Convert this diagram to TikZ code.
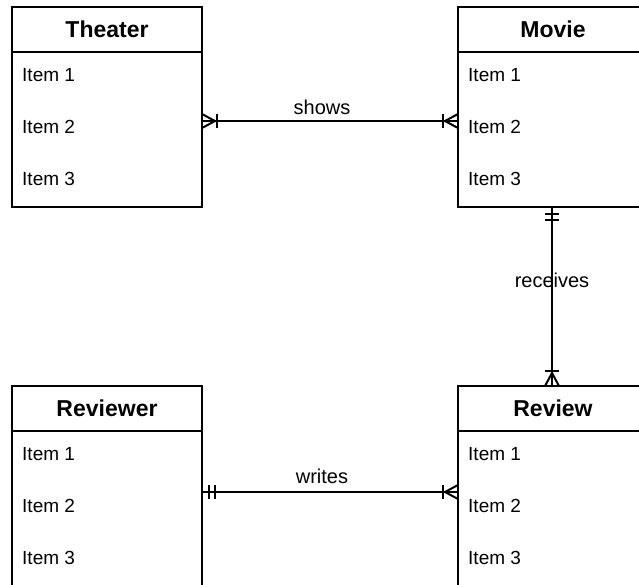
\documentclass[tikz,border=0pt]{standalone}
\usepackage{fontspec}
\setmainfont{Liberation Sans}
\usetikzlibrary{positioning}
\tikzset{%
            base/.style = {rectangle, draw=black, line width=2pt, outer sep=0pt,
                           minimum width=190pt, inner sep=0pt, text centered},
  head/.style = {base, minimum height=45pt, font=\fontsize{23}{26}\selectfont\bfseries},
  body/.style = {base, minimum height=155pt},
  item/.style = {anchor=west, inner sep=0pt, font=\fontsize{19}{22}\selectfont},
  rel/.style  = {line width=2pt},
  lbl/.style  = {inner sep=0pt, font=\fontsize{20}{24}\selectfont},
  manyend/.pic = {\draw[rel] (0,-7) -- (13,0) -- (0,7);
                  \draw[rel] (15,-7) -- (15,7);},
  oneend/.pic  = {\draw[rel] (7,-7) -- (7,7);
                  \draw[rel] (13,-7) -- (13,7);},
}

\begin{document}
\begin{tikzpicture}[x=1pt, y=-1pt]
  \clip (0,0) rectangle (639,584);

  \node (theaterhead)  [head] at (107,29.5)                 {Theater};
  \node (theaterbody)  [body, below=0pt of theaterhead]      {};
  \node (moviehead)    [head, right=256pt of theaterhead]    {Movie};
  \node (moviebody)    [body, below=0pt of moviehead]        {};
  \node (reviewerhead) [head, below=179pt of theaterbody]    {Reviewer};
  \node (reviewerbody) [body, below=0pt of reviewerhead]     {};
  \node (reviewhead)   [head, right=256pt of reviewerhead]   {Review};
  \node (reviewbody)   [body, below=0pt of reviewhead]       {};

  % attribute rows
  \node (th1) [item] at ([shift={(10,23)}]theaterbody.north west)  {Item 1};
  \node (th2) [item] at ([shift={(10,75)}]theaterbody.north west)  {Item 2};
  \node (th3) [item] at ([shift={(10,127)}]theaterbody.north west) {Item 3};
  \node (mo1) [item] at ([shift={(10,23)}]moviebody.north west)    {Item 1};
  \node (mo2) [item] at ([shift={(10,75)}]moviebody.north west)    {Item 2};
  \node (mo3) [item] at ([shift={(10,127)}]moviebody.north west)   {Item 3};
  \node (rr1) [item] at ([shift={(10,23)}]reviewerbody.north west)  {Item 1};
  \node (rr2) [item] at ([shift={(10,75)}]reviewerbody.north west)  {Item 2};
  \node (rr3) [item] at ([shift={(10,127)}]reviewerbody.north west) {Item 3};
  \node (rv1) [item] at ([shift={(10,23)}]reviewbody.north west)    {Item 1};
  \node (rv2) [item] at ([shift={(10,75)}]reviewbody.north west)    {Item 2};
  \node (rv3) [item] at ([shift={(10,127)}]reviewbody.north west)   {Item 3};

  % relations
  \draw[rel] ([yshift=8.5pt]theaterbody.east) -- node[lbl, above=5pt, xshift=-8pt] {shows}
             ([yshift=8.5pt]moviebody.west);
  \draw[rel] ([xshift=-1pt]moviebody.south) -- node[lbl, yshift=16pt] {receives}
             ([xshift=-1pt]reviewhead.north);
  \draw[rel] ([yshift=16.5pt]reviewerbody.east) -- node[lbl, above=7pt, xshift=-8pt] {writes}
             ([yshift=16.5pt]reviewbody.west);

  \pic at ([yshift=8.5pt]theaterbody.east)               {manyend};
  \pic[rotate=180] at ([yshift=8.5pt]moviebody.west)     {manyend};
  \pic[rotate=-90] at ([xshift=-1pt]moviebody.south)     {oneend};
  \pic[rotate=90]  at ([xshift=-1pt]reviewhead.north)    {manyend};
  \pic at ([yshift=16.5pt]reviewerbody.east)             {oneend};
  \pic[rotate=180] at ([yshift=16.5pt]reviewbody.west)   {manyend};
\end{tikzpicture}
\end{document}
